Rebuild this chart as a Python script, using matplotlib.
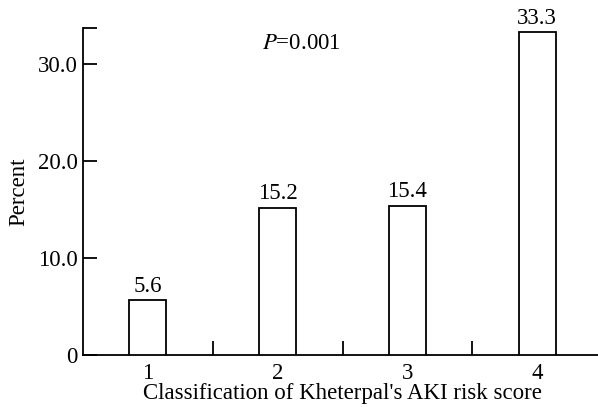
import matplotlib.pyplot as plt

categories = [1, 2, 3, 4]
percent = [5.6, 15.2, 15.4, 33.3]
value_labels = ["5.6", "15.2", "15.4", "33.3"]
yticks = [0, 10, 20, 30]
ytick_labels = ["0", "10.0", "20.0", "30.0"]

plt.rcParams['font.family'] = ['Liberation Serif', 'DejaVu Serif']
plt.rcParams['font.size'] = 16.5
plt.rcParams['mathtext.fontset'] = 'stix'

fig = plt.figure(figsize=(5.98, 4.07), dpi=100)
ax = fig.add_axes([0.1388, 0.1285, 0.868, 0.8027])

ax.bar(categories, percent, width=0.286, facecolor='white',
       edgecolor='black', linewidth=1.3, zorder=3)
for x, v, s in zip(categories, percent, value_labels):
    ax.text(x, v + 0.35, s, ha='center', va='bottom')

ax.set_xlim(0.5, 4.5)
ax.set_ylim(0, 33.75)

ax.spines['top'].set_visible(False)
ax.spines['right'].set_visible(False)
ax.spines['left'].set_linewidth(1.3)
ax.spines['bottom'].set_linewidth(1.3)

# extra unlabeled tick caps the top of the y axis
ax.set_yticks(yticks + [33.75])
ax.set_yticklabels(ytick_labels + [""])
ax.tick_params(axis='y', direction='in', length=10, width=1.3, pad=4)

# category labels without ticks, separator ticks between categories
ax.set_xticks(categories)
ax.set_xticklabels([str(c) for c in categories])
ax.tick_params(axis='x', which='major', length=0, pad=6)
ax.set_xticks([1.5, 2.5, 3.5], minor=True)
ax.tick_params(axis='x', which='minor', direction='in', length=10, width=1.3)

ax.set_xlabel("Classification of Kheterpal's AKI risk score", labelpad=-1)
ax.set_ylabel("Percent", labelpad=6)

ax.text(2.18, 32.2, r"$\mathit{P}$=0.001", ha='center', va='center')

fig.savefig("out.png", dpi=100)
